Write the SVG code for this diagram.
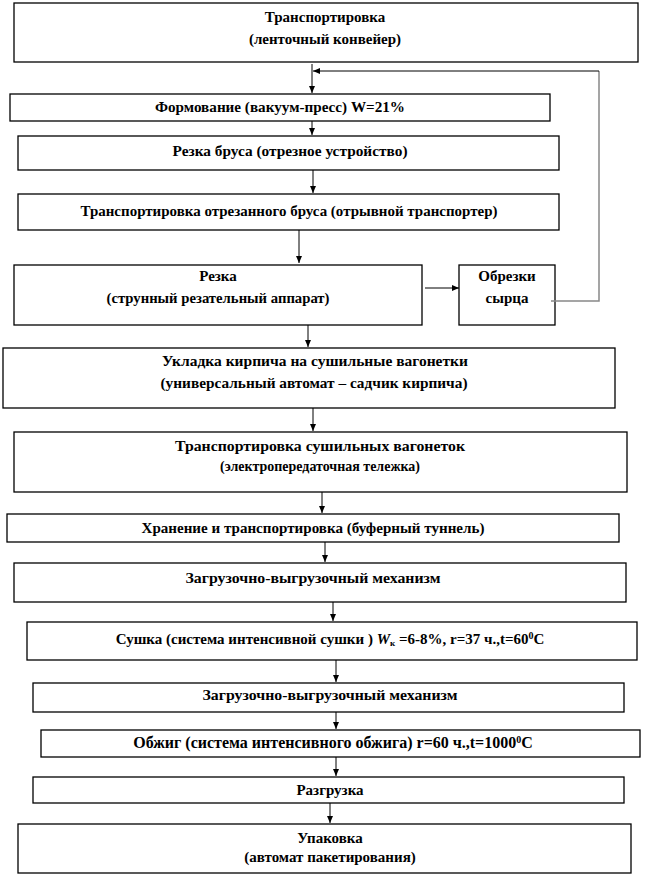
<svg xmlns="http://www.w3.org/2000/svg" width="656" height="876" viewBox="0 0 656 876">
<style>
.box{fill:#fff;stroke:#000;stroke-width:1.3}
.c{stroke:#000;stroke-width:1;fill:none}
.g{stroke:#888;stroke-width:1.5;fill:none}
</style>
<defs>
<marker id="ah" markerWidth="8" markerHeight="8" refX="7" refY="4" orient="auto" markerUnits="userSpaceOnUse">
<path d="M0,1 L7,4 L0,7 Z" fill="#000"/>
</marker>
</defs>
<rect width="656" height="876" fill="#fff"/>
<g font-family="Liberation Serif, DejaVu Serif, Times New Roman, serif" font-weight="bold" font-size="15" text-anchor="middle" fill="#000">
<g id="n1"><rect class="box" x="14" y="3" width="624" height="59"/><text x="325" y="22">Транспортировка</text><text x="325" y="44">(ленточный конвейер)</text></g>
<g id="n2"><rect class="box" x="10" y="94" width="540" height="27"/><text x="280" y="112" textLength="250" lengthAdjust="spacingAndGlyphs">Формование (вакуум-пресс) W=21%</text></g>
<g id="n3"><rect class="box" x="18" y="136" width="541" height="34"/><text x="290" y="156" textLength="235" lengthAdjust="spacingAndGlyphs">Резка бруса (отрезное устройство)</text></g>
<g id="n4"><rect class="box" x="18" y="194" width="541" height="36"/><text x="289" y="216" textLength="417" lengthAdjust="spacingAndGlyphs">Транспортировка отрезанного бруса (отрывной транспортер)</text></g>
<g id="n5"><rect class="box" x="14" y="265" width="408" height="60"/><text x="218" y="281">Резка</text><text x="218" y="303" textLength="223" lengthAdjust="spacingAndGlyphs">(струнный резательный аппарат)</text></g>
<g id="n6"><rect class="box" x="459" y="265" width="96" height="60"/><text x="507" y="281">Обрезки</text><text x="507" y="303">сырца</text></g>
<g id="n7"><rect class="box" x="3" y="348" width="612" height="60"/><text x="315" y="366" textLength="306" lengthAdjust="spacingAndGlyphs">Укладка кирпича на сушильные вагонетки</text><text x="314" y="388" textLength="307" lengthAdjust="spacingAndGlyphs">(универсальный автомат – садчик кирпича)</text></g>
<g id="n8"><rect class="box" x="14" y="432" width="613" height="60"/><text x="320" y="451" textLength="290" lengthAdjust="spacingAndGlyphs">Транспортировка сушильных  вагонеток</text><text x="320" y="471" textLength="200" lengthAdjust="spacingAndGlyphs">(электропередаточная тележка)</text></g>
<g id="n9"><rect class="box" x="7" y="514" width="612" height="28"/><text x="313" y="533" textLength="343" lengthAdjust="spacingAndGlyphs">Хранение и транспортировка (буферный туннель)</text></g>
<g id="n10"><rect class="box" x="14" y="563" width="612" height="39"/><text x="313" y="583" textLength="255" lengthAdjust="spacingAndGlyphs">Загрузочно-выгрузочный механизм</text></g>
<g id="n11"><rect class="box" x="27" y="622" width="610" height="38"/><text x="330" y="644">Сушка  (система интенсивной сушки ) <tspan font-style="italic">W</tspan><tspan font-size="9" dy="2">к</tspan><tspan dy="-2"> =6-8%, r=37 ч.,t=60</tspan><tspan font-size="10" dy="-5">0</tspan><tspan dy="5">С</tspan></text></g>
<g id="n12"><rect class="box" x="33" y="683" width="591" height="29"/><text x="330" y="700" textLength="255" lengthAdjust="spacingAndGlyphs">Загрузочно-выгрузочный механизм</text></g>
<g id="n13"><rect class="box" x="41" y="730" width="599" height="27"/><text x="333" y="748" font-size="16">Обжиг (система интенсивного обжига) r=60 ч.,t=1000<tspan font-size="10" dy="-5">0</tspan><tspan dy="5">С</tspan></text></g>
<g id="n14"><rect class="box" x="33" y="777" width="591" height="26"/><text x="330" y="795">Разгрузка</text></g>
<g id="n15"><rect class="box" x="18" y="824" width="613" height="49"/><text x="330" y="843">Упаковка</text><text x="330" y="862">(автомат пакетирования)</text></g>
</g>
<g id="connectors">
<line class="c" x1="312" y1="64" x2="312" y2="93" marker-end="url(#ah)"/>
<polyline class="g" points="551,301 599,301 599,71"/>
<line class="c" x1="599" y1="71" x2="313" y2="71" marker-end="url(#ah)"/>
<line class="c" x1="312" y1="121" x2="312" y2="135" marker-end="url(#ah)"/>
<line class="c" x1="313" y1="170" x2="313" y2="193" marker-end="url(#ah)"/>
<line class="c" x1="299" y1="230" x2="299" y2="263" marker-end="url(#ah)"/>
<line class="c" x1="425" y1="288" x2="459" y2="288" marker-end="url(#ah)"/>
<line class="c" x1="308" y1="325" x2="308" y2="347" marker-end="url(#ah)"/>
<line class="c" x1="313" y1="408" x2="313" y2="431" marker-end="url(#ah)"/>
<line class="c" x1="322" y1="492" x2="322" y2="513" marker-end="url(#ah)"/>
<line class="c" x1="325" y1="542" x2="325" y2="562" marker-end="url(#ah)"/>
<line class="c" x1="333" y1="602" x2="333" y2="621" marker-end="url(#ah)"/>
<line class="c" x1="336" y1="660" x2="336" y2="682" marker-end="url(#ah)"/>
<line class="c" x1="336" y1="712" x2="336" y2="729" marker-end="url(#ah)"/>
<line class="c" x1="336" y1="757" x2="336" y2="776" marker-end="url(#ah)"/>
<line class="c" x1="330" y1="803" x2="330" y2="823" marker-end="url(#ah)"/>
</g>
</svg>
